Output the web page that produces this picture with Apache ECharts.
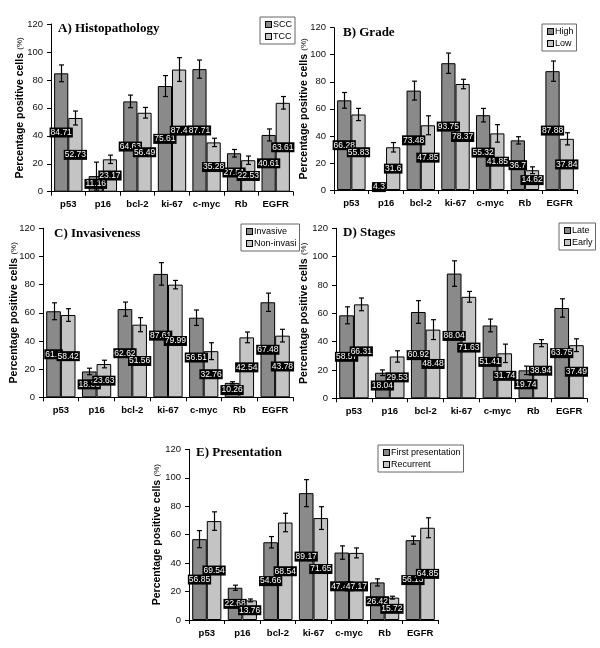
<!DOCTYPE html>
<html><head><meta charset="utf-8">
<script src="https://cdn.jsdelivr.net/npm/echarts@6/dist/echarts.min.js"></script>
<style>html,body{margin:0;padding:0;background:#fff}#c{width:600px;height:648px}</style>
</head><body><div id="c"></div>
<script>
// ---------- DATA ----------
const categories = ['p53', 'p16', 'bcl-2', 'ki-67', 'c-myc', 'Rb', 'EGFR'];
const yTickMin = 0, yTickMax = 120, yTickStep = 20;
const yAxisTitle = 'Percentage positive cells';
const yAxisUnit = '(%)';

// A) Histopathology
const histoTitle = 'A) Histopathology';
const histoNames = ['SCC', 'TCC'];
const sccValues = [84.71, 11.16, 64.63, 75.61, 87.71, 27.51, 40.61];
const sccErrors = [6, 10, 4.5, 7.5, 6.5, 2.7, 4.3];
const tccValues = [52.73, 23.17, 56.49, 87.4, 35.28, 22.53, 63.61];
const tccErrors = [5, 3, 3.8, 8.5, 3, 3, 4.5];

// B) Grade
const gradeTitle = 'B) Grade';
const gradeNames = ['High', 'Low'];
const highValues = [66.28, 4.3, 73.48, 93.75, 55.32, 36.7, 87.88];
const highErrors = [5.8, 0.5, 7, 7.5, 5, 2.7, 7.5];
const lowValues = [55.83, 31.6, 47.85, 78.37, 41.85, 14.62, 37.84];
const lowErrors = [4.5, 3.5, 7, 3.5, 6.5, 2.5, 4.5];

// C) Invasiveness
const invTitle = 'C) Invasiveness';
const invNames = ['Invasive', 'Non-invasive'];
const invasiveValues = [61.1, 18.36, 62.62, 87.61, 56.51, 10.26, 67.48];
const invasiveErrors = [6, 2.3, 5, 8, 5.5, 0.8, 6.5];
const nonInvasiveValues = [58.42, 23.63, 51.56, 79.99, 32.76, 42.54, 43.78];
const nonInvasiveErrors = [4.5, 2.7, 5, 3, 6, 3.8, 4.5];

// D) Stages
const stageTitle = 'D) Stages';
const stageNames = ['Late', 'Early'];
const lateValues = [58.57, 18.04, 60.92, 88.04, 51.41, 19.74, 63.75];
const lateErrors = [6, 2, 8, 9, 4.5, 3, 6.5];
const earlyValues = [66.31, 29.53, 48.48, 71.63, 31.74, 38.94, 37.49];
const earlyErrors = [4.5, 4, 7, 3.8, 6.5, 2.5, 4.5];

// E) Presentation
const presTitle = 'E) Presentation';
const presNames = ['First presentation', 'Recurrent'];
const firstValues = [56.85, 22.68, 54.66, 89.17, 47.41, 26.42, 56.13];
const firstErrors = [6, 1.8, 4, 9.5, 4.7, 2.5, 2.8];
const recurrentValues = [69.54, 13.76, 68.54, 71.65, 47.17, 15.72, 64.85];
const recurrentErrors = [6.5, 1, 6.5, 8, 3.5, 1, 7];

// ---------- LAYOUT / STYLE ----------
const panels = [
  {title: histoTitle, names: histoNames, v: [sccValues, tccValues], e: [sccErrors, tccErrors],
   g: {left: 51, top: 24, width: 242, height: 167.7}, t: [58, 22.5], l: [263, 17], gap: 25},
  {title: gradeTitle, names: gradeNames, v: [highValues, lowValues], e: [highErrors, lowErrors],
   g: {left: 334, top: 27.7, width: 243, height: 162.3}, t: [343, 26.5], l: [545, 24], gap: 24},
  {title: invTitle, names: invNames, v: [invasiveValues, nonInvasiveValues], e: [invasiveErrors, nonInvasiveErrors],
   g: {left: 43, top: 228.3, width: 250, height: 169}, t: [54, 227.5], l: [244, 224], gap: 23, clipLegend: 51},
  {title: stageTitle, names: stageNames, v: [lateValues, earlyValues], e: [lateErrors, earlyErrors],
   g: {left: 336, top: 228.3, width: 251, height: 170}, t: [343, 226], l: [562, 223], gap: 26},
  {title: presTitle, names: presNames, v: [firstValues, recurrentValues], e: [firstErrors, recurrentErrors],
   g: {left: 189, top: 449.3, width: 249, height: 170.7}, t: [196, 446.5], l: [381, 445], gap: 26}
];
const barColors = ['#8a8a8a', '#c4c4c4'];
const SANS = '"Liberation Sans", Arial, sans-serif';
const SERIF = '"Liberation Serif", "Times New Roman", serif';
const CAT_GAP = 0.18;
const HALF_OFF = (1 - CAT_GAP) / 4; // offset of each bar centre from category centre, as fraction of band

const grid = [], xAxis = [], yAxis = [], series = [], title = [], legend = [];

panels.forEach((p, i) => {
  grid.push(Object.assign({containLabel: false}, p.g));
  xAxis.push({
    type: 'category', gridIndex: i, data: categories, boundaryGap: true,
    axisLine: {show: true, lineStyle: {color: '#000', width: 1}},
    axisTick: {show: true, alignWithLabel: false, length: 4, inside: false, lineStyle: {color: '#000'}},
    axisLabel: {color: '#000', fontFamily: SANS, fontWeight: 'bold', fontSize: 9.5, margin: 8, interval: 0},
    splitLine: {show: false}
  });
  yAxis.push({
    type: 'value', gridIndex: i, min: yTickMin, max: yTickMax, interval: yTickStep,
    axisLine: {show: true, lineStyle: {color: '#000', width: 1}},
    axisTick: {show: true, length: 4, inside: false, lineStyle: {color: '#000'}},
    axisLabel: {color: '#111', fontFamily: SANS, fontSize: 9.5, margin: 8},
    splitLine: {show: false},
    name: '{b|' + yAxisTitle + '} {s|' + yAxisUnit + '}',
    nameLocation: 'middle', nameRotate: 90, nameGap: p.gap, nameMoveOverlap: false,
    nameTextStyle: {
      color: '#000',
      rich: {
        b: {fontFamily: SANS, fontWeight: 'bold', fontSize: 10.5, color: '#000'},
        s: {fontFamily: SANS, fontSize: 8, color: '#000'}
      }
    }
  });
  p.v.forEach((vals, s) => {
    series.push({
      type: 'bar', name: p.names[s], xAxisIndex: i, yAxisIndex: i, data: vals,
      barGap: '0%', barCategoryGap: (CAT_GAP * 100) + '%', z: 2,
      itemStyle: {color: barColors[s], borderColor: '#000', borderWidth: 1},
      emphasis: {disabled: true}, animation: false
    });
  });
  // error bars
  const errData = [];
  p.v.forEach((vals, s) => vals.forEach((v, k) => errData.push([k, v, p.e[s][k], s])));
  series.push({
    type: 'custom', xAxisIndex: i, yAxisIndex: i, z: 3, data: errData, animation: false, silent: true,
    renderItem: (params, api) => {
      const k = api.value(0), v = api.value(1), e = api.value(2), s = api.value(3);
      const band = api.size([1, 0])[0];
      const dx = (s === 0 ? -1 : 1) * band * HALF_OFF;
      const top = api.coord([k, v + e]), bot = api.coord([k, Math.max(0, v - e)]);
      const x = Math.round(top[0] + dx) + 0.5;
      const cap = 2.5;
      const ls = {stroke: '#000', lineWidth: 1.2};
      return {type: 'group', children: [
        {type: 'line', shape: {x1: x, y1: top[1], x2: x, y2: bot[1]}, style: ls},
        {type: 'line', shape: {x1: x - cap, y1: top[1], x2: x + cap, y2: top[1]}, style: ls},
        {type: 'line', shape: {x1: x - cap, y1: bot[1], x2: x + cap, y2: bot[1]}, style: ls}
      ]};
    }
  });
  // value labels (drawn above error bars)
  const labData = [];
  p.v.forEach((vals, s) => vals.forEach((v, k) => labData.push([k, v, s])));
  series.push({
    type: 'custom', xAxisIndex: i, yAxisIndex: i, z: 4, data: labData, animation: false, silent: true,
    renderItem: (params, api) => {
      const k = api.value(0), v = api.value(1), s = api.value(2);
      const band = api.size([1, 0])[0];
      const dx = (s === 0 ? -1 : 1) * band * HALF_OFF;
      const pt = api.coord([k, v / 2]);
      return {type: 'text', x: pt[0] + dx, y: pt[1], style: {
        text: String(v), fill: '#fff', backgroundColor: '#000', padding: [1, 1, 0, 1],
        align: 'center', verticalAlign: 'middle', font: '8.5px ' + SANS
      }};
    }
  });
  title.push({
    text: p.title, left: p.t[0], top: p.t[1], padding: 0,
    textStyle: {fontFamily: SERIF, fontWeight: 'bold', fontSize: 13, color: '#000'}
  });
  const names = p.names;
  const textStyle = {
    fontFamily: SANS, fontSize: 9, color: '#000',
    rich: {
      c0: {width: 5, height: 5, backgroundColor: barColors[0], borderColor: '#000', borderWidth: 1},
      c1: {width: 5, height: 5, backgroundColor: barColors[1], borderColor: '#000', borderWidth: 1},
      t: {fontFamily: SANS, fontSize: 9, color: '#000', padding: [0, 0, 0, 2]}
    }
  };
  if (p.clipLegend) {
    textStyle.width = p.clipLegend;
    textStyle.overflow = 'truncate';
    textStyle.ellipsis = '';
  }
  legend.push({
    data: names, left: p.l[0] - 3, top: p.l[1], orient: 'vertical',
    padding: [3, 3, 3, 0], itemGap: 3, itemWidth: 0, itemHeight: 0,
    borderColor: '#666', borderWidth: 1, backgroundColor: 'rgba(255,255,255,0)', selectedMode: false,
    formatter: (n) => '{c' + names.indexOf(n) + '| }{t|' + n + '}',
    textStyle
  });
});

const chart = echarts.init(document.getElementById('c'), null, {renderer: 'canvas'});
chart.setOption({
  backgroundColor: '#fff', animation: false,
  textStyle: {fontFamily: SANS},
  tooltip: {show: false},
  grid, xAxis, yAxis, series, title, legend
});
</script></body></html>
